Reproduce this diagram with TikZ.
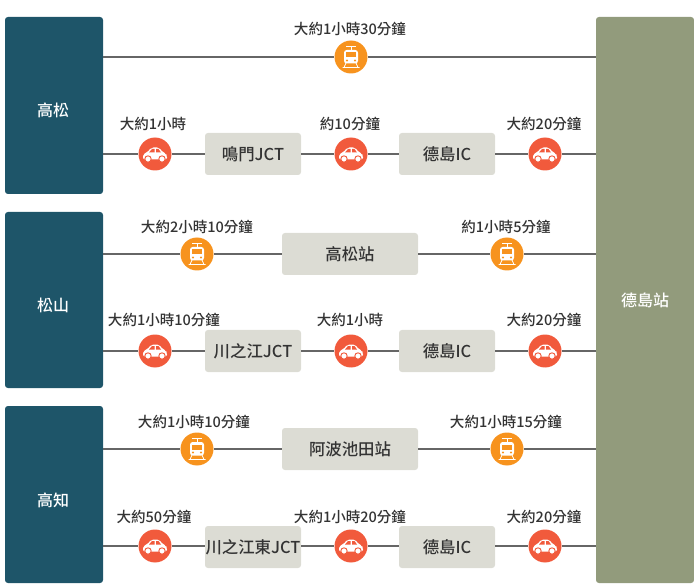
\documentclass[tikz,border=0pt]{standalone}
\usepackage{fontspec}
\setmainfont{Noto Sans CJK TC Medium}
\definecolor{teal}{HTML}{1E5569}
\definecolor{sage}{HTML}{929B7C}
\definecolor{stop}{HTML}{DCDCD4}
\definecolor{trainc}{HTML}{F7931E}
\definecolor{carc}{HTML}{F15A3C}
\definecolor{linec}{HTML}{666666}
\definecolor{ink}{HTML}{333333}
\tikzset{
  x=0.75pt,y=-0.75pt,
  city/.style={fill=teal,rounded corners=2.2pt,inner sep=0,text=white,font=\fontsize{12}{14}\selectfont},
  dest/.style={fill=sage,rounded corners=2.2pt,inner sep=0,text=white,font=\fontsize{12}{14}\selectfont},
  stopbox/.style={fill=stop,rounded corners=2.2pt,inner sep=0,minimum width=72pt,minimum height=31.5pt,text=ink,font=\fontsize{12.3}{14}\selectfont},
  wide/.style={stopbox,minimum width=102pt},
  tcirc/.style={circle,fill=trainc,inner sep=0,minimum size=24.75pt},
  ccirc/.style={circle,fill=carc,inner sep=0,minimum size=24.75pt},
  time/.style={text=ink,inner sep=0,font=\fontsize{10.9}{12}\selectfont},
  link/.style={draw=linec,line width=1.1pt},
  car/.pic={
    \fill[white,rounded corners=1.5pt] (-12,5.5) -- (-12,0) -- (-8,-1.5) -- (-3.5,-6.5) -- (4,-6.5) -- (8,-1.5) -- (11,-0.5) -- (12,2) -- (12,5.5) -- cycle;
    \fill[carc] (-6,-1.5) -- (-3,-5) -- (-0.5,-5) -- (-0.5,-1.5) -- cycle;
    \fill[carc] (1,-1.5) -- (1,-5) -- (3.5,-5) -- (6,-1.5) -- cycle;
    \fill[white,draw=carc,line width=0.7pt] (-7,5) circle (3.2);
    \fill[white,draw=carc,line width=0.7pt] (7,5) circle (3.2);
  },
  train/.pic={
    \draw[white,line width=0.6pt] (-5,-10.5) -- (5,-10.5) (0,-10.5) -- (0,-7);
    \fill[white,rounded corners=2pt] (-7,-7) rectangle (7,6.5);
    \fill[trainc] (-4.8,-4.5) rectangle (4.8,0.5);
    \fill[trainc] (-4,3.5) circle (1.1) (4,3.5) circle (1.1);
    \draw[white,line width=0.6pt] (-5,6) -- (-7,10.5) (5,6) -- (7,10.5) (-8.5,10.5) -- (8.5,10.5);
  }
}
\begin{document}
\begin{tikzpicture}
\useasboundingbox (0,0) rectangle (694,585);
% terminals
\node[city,minimum width=73.5pt,minimum height=132.75pt] (gA) at (54,105.5) {};
\node[text=white,font=\fontsize{12}{14}\selectfont,inner sep=0] (tA) at (53,110) {高松};
\node[city,minimum width=73.5pt,minimum height=132pt] (gB) at (54,300) {};
\node[text=white,font=\fontsize{12}{14}\selectfont,inner sep=0] (tB) at (53,305) {松山};
\node[city,minimum width=73.5pt,minimum height=132.75pt] (gC) at (54,494.5) {};
\node[text=white,font=\fontsize{12}{14}\selectfont,inner sep=0] (tC) at (53,500) {高知};
\node[dest,minimum width=73.5pt,minimum height=424.5pt] (dst) at (645,300) {德島站};
% row 1
\node[tcirc] (a1) at (351,57) {};
\draw[link] (gA.east |- a1) -- (a1) -- (dst.west |- a1);
\pic at (a1) {train};
\node[time] (la) at (350,29) {大約1小時30分鐘};
% row 2
\node[ccirc] (b1) at (155,154) {};
\node[stopbox] (b2) at (253,154) {鳴門JCT};
\node[ccirc] (b3) at (351,154) {};
\node[stopbox] (b4) at (447,154) {德島IC};
\node[ccirc] (b5) at (545,154) {};
\draw[link] (gA.east |- b1) -- (b1) (b1) -- (b2) (b2) -- (b3) (b3) -- (b4) (b4) -- (b5) (b5) -- (dst.west |- b5);
\foreach \n in {b1,b3,b5} \pic at (\n) {car};
\node[time] (lb1) at (153,124) {大約1小時};
\node[time] (lb2) at (350,124) {約10分鐘};
\node[time] (lb3) at (544,124) {大約20分鐘};
% row 3
\node[tcirc] (c1) at (197,254) {};
\node[wide] (c2) at (350,254) {高松站};
\node[tcirc] (c3) at (507,254) {};
\draw[link] (gB.east |- c1) -- (c1) (c1) -- (c2) (c2) -- (c3) (c3) -- (dst.west |- c3);
\foreach \n in {c1,c3} \pic at (\n) {train};
\node[time] (lc1) at (197,227) {大約2小時10分鐘};
\node[time] (lc2) at (506,227) {約1小時5分鐘};
% row 4
\node[ccirc] (d1) at (155,351) {};
\node[stopbox] (d2) at (253,351) {川之江JCT};
\node[ccirc] (d3) at (351,351) {};
\node[stopbox] (d4) at (447,351) {德島IC};
\node[ccirc] (d5) at (545,351) {};
\draw[link] (gB.east |- d1) -- (d1) (d1) -- (d2) (d2) -- (d3) (d3) -- (d4) (d4) -- (d5) (d5) -- (dst.west |- d5);
\foreach \n in {d1,d3,d5} \pic at (\n) {car};
\node[time] (ld1) at (164,320) {大約1小時10分鐘};
\node[time] (ld2) at (350,320) {大約1小時};
\node[time] (ld3) at (544,320) {大約20分鐘};
% row 5
\node[tcirc] (e1) at (197,449) {};
\node[wide] (e2) at (350,449) {阿波池田站};
\node[tcirc] (e3) at (507,449) {};
\draw[link] (gC.east |- e1) -- (e1) (e1) -- (e2) (e2) -- (e3) (e3) -- (dst.west |- e3);
\foreach \n in {e1,e3} \pic at (\n) {train};
\node[time] (le1) at (194,422) {大約1小時10分鐘};
\node[time] (le2) at (506,422) {大約1小時15分鐘};
% row 6
\node[ccirc] (f1) at (155,546) {};
\node[stopbox] (f2) at (253,547) {川之江東JCT};
\node[ccirc] (f3) at (351,546) {};
\node[stopbox] (f4) at (447,547) {德島IC};
\node[ccirc] (f5) at (545,546) {};
\draw[link] (gC.east |- f1) -- (f1) (f1) -- (f2.west |- f1) (f2.east |- f1) -- (f3) (f3) -- (f4.west |- f3) (f4.east |- f3) -- (f5) (f5) -- (dst.west |- f5);
\foreach \n in {f1,f3,f5} \pic at (\n) {car};
\node[time] (lf1) at (154,517) {大約50分鐘};
\node[time] (lf2) at (350,517) {大約1小時20分鐘};
\node[time] (lf3) at (544,517) {大約20分鐘};
\end{tikzpicture}
\end{document}
